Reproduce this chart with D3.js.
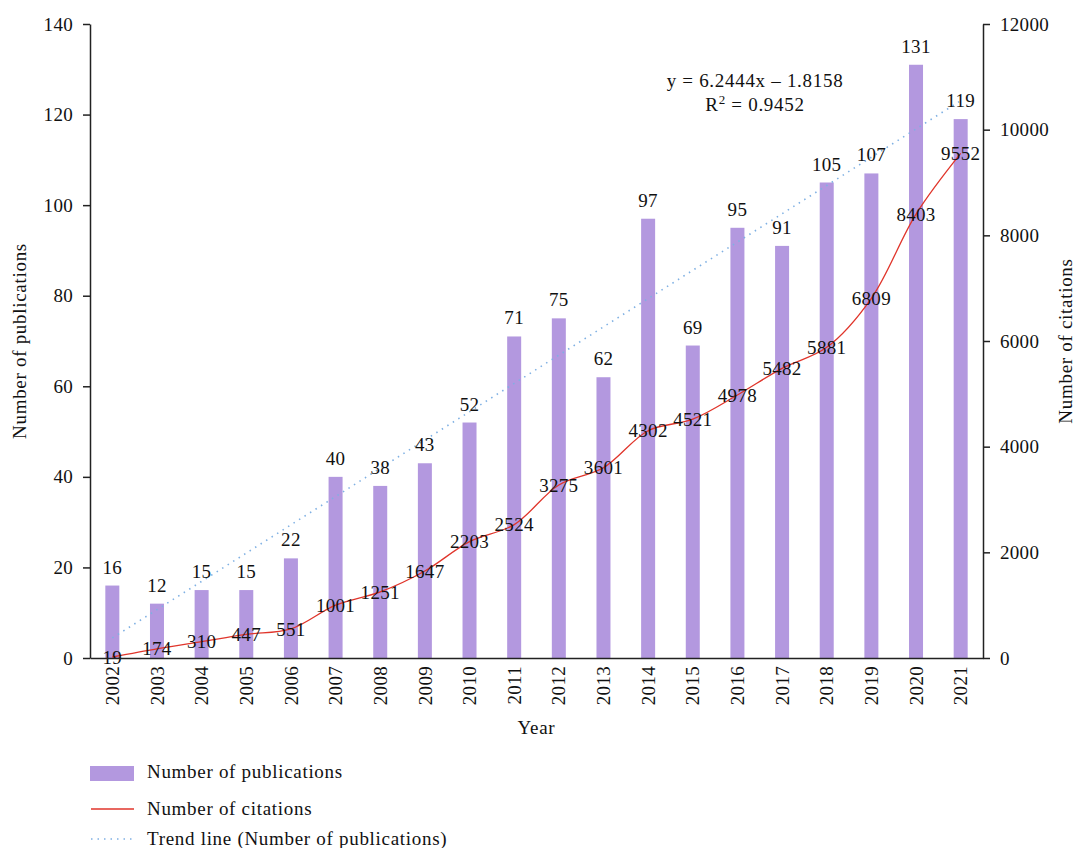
<!DOCTYPE html>
<html>
<head>
<meta charset="utf-8">
<script src="https://cdn.jsdelivr.net/npm/d3@7"></script>
<style>
  body { margin: 0; background: #fff; }
  svg text { font-family: "Liberation Serif", "DejaVu Serif", serif; fill: #111; }
  .axis path, .axis line { stroke: #222; stroke-width: 1.5px; }
  .axis text { font-size: 19px; letter-spacing: 0.3px; }
  .num { font-size: 19px; letter-spacing: 0.3px; }
  .word { font-size: 19px; letter-spacing: 0.7px; }
</style>
</head>
<body>
<div id="chart"></div>
<script>
const width = 1076;
const height = 848;

// data
const years = ["2002","2003","2004","2005","2006","2007","2008","2009","2010","2011",
               "2012","2013","2014","2015","2016","2017","2018","2019","2020","2021"];
const publications = [16, 12, 15, 15, 22, 40, 38, 43, 52, 71, 75, 62, 97, 69, 95, 91, 105, 107, 131, 119];
const citations = [19, 174, 310, 447, 551, 1001, 1251, 1647, 2203, 2524, 3275, 3601, 4302, 4521, 4978, 5482, 5881, 6809, 8403, 9552];
const trendSlope = 6.2444;
const trendIntercept = -1.8158;
const leftTicks = [0, 20, 40, 60, 80, 100, 120, 140];
const rightTicks = [0, 2000, 4000, 6000, 8000, 10000, 12000];

const barColor = "#b398df";
const lineColor = "#e0352b";
const trendColor = "#7fb0e3";

const margin = { left: 90, right: 93, top: 24, bottom: 190 };
const plotW = width - margin.left - margin.right;
const plotH = height - margin.top - margin.bottom;

const svg = d3.select("#chart").append("svg")
    .attr("width", width)
    .attr("height", height);

const g = svg.append("g").attr("transform", `translate(${margin.left},${margin.top})`);

const x = d3.scaleBand().domain(years).range([0, plotW]).padding(0);
const yL = d3.scaleLinear().domain([0, 140]).range([plotH, 0]);
const yR = d3.scaleLinear().domain([0, 12000]).range([plotH, 0]);
const barW = 14;

// bars
g.append("g").selectAll("rect")
    .data(years)
    .join("rect")
    .attr("x", (d) => x(d) + x.bandwidth() / 2 - barW / 2)
    .attr("y", (d, i) => yL(publications[i]))
    .attr("width", barW)
    .attr("height", (d, i) => plotH - yL(publications[i]))
    .attr("fill", barColor);

// trend line (dotted)
const trendPts = years.map((d, i) => [x(d) + x.bandwidth() / 2, yL(trendSlope * (i + 1) + trendIntercept)]);
g.append("path")
    .attr("d", d3.line()(trendPts))
    .attr("fill", "none")
    .attr("stroke", trendColor)
    .attr("stroke-width", 1.6)
    .attr("stroke-dasharray", "1.5,5");

// citations line
const citeLine = d3.line()
    .x((d, i) => x(years[i]) + x.bandwidth() / 2)
    .y((d) => yR(d))
    .curve(d3.curveCatmullRom.alpha(0.5));
g.append("path")
    .datum(citations)
    .attr("d", citeLine)
    .attr("fill", "none")
    .attr("stroke", lineColor)
    .attr("stroke-width", 1.3);

// bar labels
g.append("g").selectAll("text")
    .data(years)
    .join("text")
    .attr("class", "num")
    .attr("x", (d) => x(d) + x.bandwidth() / 2)
    .attr("y", (d, i) => yL(publications[i]) - 12)
    .attr("text-anchor", "middle")
    .text((d, i) => publications[i]);

// citation labels
g.append("g").selectAll("text")
    .data(years)
    .join("text")
    .attr("class", "num")
    .attr("x", (d) => x(d) + x.bandwidth() / 2)
    .attr("y", (d, i) => yR(citations[i]))
    .attr("dy", "0.35em")
    .attr("text-anchor", "middle")
    .text((d, i) => citations[i]);

// axes
g.append("g").attr("class", "axis")
    .call(d3.axisLeft(yL).tickValues(leftTicks).tickSize(7).tickPadding(10).tickSizeOuter(0));
g.append("g").attr("class", "axis")
    .attr("transform", `translate(${plotW},0)`)
    .call(d3.axisRight(yR).tickValues(rightTicks).tickFormat(d3.format("d")).tickSize(7).tickPadding(10).tickSizeOuter(0));

const xAxis = g.append("g").attr("class", "axis")
    .attr("transform", `translate(0,${plotH})`)
    .call(d3.axisBottom(x).tickSize(0).tickPadding(8).tickSizeOuter(0));
xAxis.selectAll("text")
    .attr("transform", "rotate(-90)")
    .attr("text-anchor", "end")
    .attr("x", -8)
    .attr("y", 0)
    .attr("dy", "0.35em");

// axis titles
svg.append("text")
    .attr("class", "word")
    .attr("transform", `translate(26,${margin.top + plotH / 2}) rotate(-90)`)
    .attr("text-anchor", "middle")
    .text("Number of publications");
svg.append("text")
    .attr("class", "word")
    .attr("transform", `translate(1072,${margin.top + plotH / 2}) rotate(-90)`)
    .attr("text-anchor", "middle")
    .text("Number of citations");
svg.append("text")
    .attr("class", "word")
    .attr("x", margin.left + plotW / 2)
    .attr("y", 734)
    .attr("text-anchor", "middle")
    .text("Year");

// trend equation
svg.append("text")
    .attr("class", "word")
    .attr("x", 755)
    .attr("y", 87)
    .attr("text-anchor", "middle")
    .text("y = 6.2444x \u2013 1.8158");
const r2 = svg.append("text")
    .attr("class", "word")
    .attr("x", 755)
    .attr("y", 111)
    .attr("text-anchor", "middle");
r2.append("tspan").text("R");
r2.append("tspan").attr("dy", -7).style("font-size", "13px").text("2");
r2.append("tspan").attr("dy", 7).text(" = 0.9452");

// legend
const legend = svg.append("g");
legend.append("rect").attr("x", 90).attr("y", 766).attr("width", 44).attr("height", 15).attr("fill", barColor);
legend.append("text").attr("class", "word").attr("x", 147).attr("y", 778).text("Number of publications");
legend.append("line").attr("x1", 91).attr("x2", 134).attr("y1", 809).attr("y2", 809)
    .attr("stroke", lineColor).attr("stroke-width", 1.3);
legend.append("text").attr("class", "word").attr("x", 147).attr("y", 815).text("Number of citations");
legend.append("line").attr("x1", 91).attr("x2", 134).attr("y1", 839).attr("y2", 839)
    .attr("stroke", trendColor).attr("stroke-width", 1.6).attr("stroke-dasharray", "1.5,5");
legend.append("text").attr("class", "word").attr("x", 147).attr("y", 845).text("Trend line (Number of publications)");
</script>
</body>
</html>
